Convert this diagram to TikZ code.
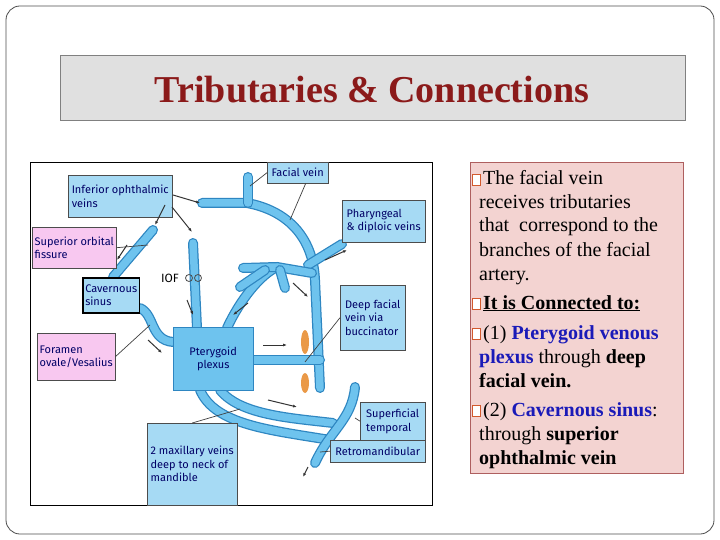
\documentclass[tikz,border=0pt]{standalone}
\usepackage{fontspec}
\setmainfont{Liberation Serif}
\newfontfamily\lab{Fira Sans}
\usetikzlibrary{arrows.meta}
\definecolor{vein}{HTML}{6EC3EE}
\definecolor{veinedge}{HTML}{2E86C1}
\definecolor{lbox}{HTML}{A6DAF4}
\definecolor{pinkbox}{HTML}{F8C8F0}
\definecolor{panel}{HTML}{F3D3D1}
\definecolor{titlered}{HTML}{8B1A1A}
\definecolor{txtblue}{HTML}{1A1AB8}
\tikzset{
 lbl/.style={draw=black!70,fill=lbox,font=\lab\fontsize{11}{13.5}\selectfont,text=blue!40!black,align=left,inner sep=2.5pt,anchor=north west},
 plbl/.style={lbl,fill=pinkbox},
 veinline/.style={line width=10pt,draw=veinedge,line cap=round},
 veinfill/.style={line width=7.5pt,draw=vein,line cap=round},
 arr/.style={-{Latex[length=4pt]},line width=1pt,black!80},
 lead/.style={line width=0.7pt,black!75},
 ptxt/.style={anchor=base west,font=\fontsize{20}{22}\selectfont,inner sep=0pt},
}
\newcommand{\bx}{\tikz[baseline=0pt]\draw[draw=brown!70!red,line width=0.6pt,fill=white](0,0) rectangle (8pt,11pt);}
\newcommand{\vein}[1]{\draw[veinline] #1; \draw[veinfill] #1;}
\begin{document}
\begin{tikzpicture}[x=1pt,y=-1pt]
\useasboundingbox (0,0) rectangle (720,540);
\draw[black!70,line width=0.8pt,rounded corners=14pt] (6,6) rectangle (714,534);
% title
\node[draw=black!50,fill=black!12,minimum width=625,minimum height=65,anchor=north west,inner sep=0] (title) at (60,55) {};
\node[font=\bfseries\fontsize{38}{42}\selectfont,text=titlered] (tt) at (372,90) {Tributaries \& Connections};
% figure frame
\node[draw=black,fill=white,line width=0.8pt,minimum width=402,minimum height=343,anchor=north west,inner sep=0] (fig) at (30,162) {};
% veins
\vein{(202,203) -- (247,203) .. controls (285,210) and (313,235) .. (315,280) -- (320,388)}
\vein{(248,177) -- (248,203)}
\vein{(308,265) -- (342,244)}
\vein{(253,360) -- (320,360)}
\vein{(227,328) .. controls (240,300) and (260,275) .. (277,267)}
\vein{(243,268) -- (277,267) -- (312,273)}
\vein{(240,287) -- (265,270)}
\vein{(285,288) -- (280,270)}
\vein{(193,243) -- (197,328)}
\vein{(113,277) -- (153,230)}
\vein{(140,308) .. controls (155,315) and (150,340) .. (173,342)}
\vein{(200,390) .. controls (215,425) and (270,430) .. (330,440)}
\vein{(220,390) .. controls (240,415) and (290,418) .. (333,423)}
\vein{(355,387) .. controls (352,420) and (330,430) .. (315,463)}
% brown blobs
\fill[orange!60!brown,opacity=0.8] (305,342) ellipse (4pt and 12pt);
\fill[orange!60!brown,opacity=0.8] (305,383) ellipse (4pt and 10pt);
% labels
\node[lbl,minimum width=104,minimum height=42] (iov) at (68,175) {Inferior ophthalmic\\veins};
\node[lbl,minimum width=61,minimum height=21] (fv) at (267,162) {Facial vein};
\node[plbl,minimum width=45,minimum height=41] (sof) at (32,227) {Superior orbital\\fissure};
\node[lbl,minimum width=83,minimum height=42] (pdv) at (342,200) {Pharyngeal\\\& diploic veins};
\node[lbl,draw=black,line width=1.5pt,minimum width=56,minimum height=35] (cs) at (82,277) {Cavernous\\sinus};
\node[lbl,minimum width=65,minimum height=65] (dfv) at (340,285) {Deep facial\\vein via\\buccinator};
\node[plbl,minimum width=75,minimum height=47] (fo) at (37,333) {Foramen\\ovale/Vesalius};
\node[lbl,draw=veinedge,fill=vein,minimum width=80,minimum height=63,anchor=north west,align=center] (pp) at (173,327) {Pterygoid\\plexus};
\node[lbl,minimum width=65,minimum height=38] (st) at (360,402) {Superficial\\temporal};
\node[lbl,minimum width=90,minimum height=82] (mv) at (147,423) {2 maxillary veins\\deep to neck of\\mandible};
\node[lbl,minimum width=95,minimum height=22] (rm) at (330,440) {Retromandibular};
\node[font=\lab\fontsize{12}{13}\selectfont] (iof) at (170,278) {IOF};
\draw[black!70,line width=0.8pt] (189,278) circle (3.5pt) (198,278) circle (3.5pt);
% leaders
\coordinate (l1) at (250,186); \draw[lead] (fv.west) -- (l1);
\coordinate (l2) at (290,220); \draw[lead] ([xshift=8pt]fv.south) -- (l2);
\coordinate (l3) at (148,245); \draw[lead] (sof.east) -- (l3);
\coordinate (l4) at (150,325); \draw[lead] (fo.east) -- (l4);
\coordinate (l5) at (305,362); \draw[lead] (dfv.west) -- (l5);
\coordinate (l6) at (240,409); \draw[lead] (mv.north) -- (l6);
\coordinate (l7) at (355,418); \draw[lead] (st.west) -- (l7);
\coordinate (l8) at (320,452); \draw[lead] (rm.west) -- (l8);
% arrows
\foreach \p/\q/\r/\s in {173/195/200/203,165/205/155/225,172/207/192/232,127/245/117/260,187/300/193/315,148/340/162/353,248/303/233/315,293/283/308/297,325/260/347/250,263/345/287/345,268/400/297/407,308/467/303/477}
  \draw[arr] (\p,\q) -- (\r,\s);
% text panel
\node[draw=titlered!70,fill=panel,minimum width=213,minimum height=311,anchor=north west,inner sep=0] (panel) at (470,162) {};
\node[anchor=base west,inner sep=0] (b1) at (472,185) {\bx};
\node[ptxt] (t1) at (483,185) {The facial vein};
\node[ptxt] (t2) at (479,208) {receives tributaries};
\node[ptxt] (t3) at (479,232) {that\ \ correspond to the};
\node[ptxt] (t4) at (479,256) {branches of the facial};
\node[ptxt] (t5) at (479,280) {artery.};
\node[anchor=base west,inner sep=0] (b2) at (472,309) {\bx};
\node[ptxt] (t6) at (483,309) {\bfseries\underline{It is Connected to:}};
\node[anchor=base west,inner sep=0] (b3) at (472,339) {\bx};
\node[ptxt] (t7) at (483,339) {(1) \textbf{\color{txtblue}Pterygoid venous}};
\node[ptxt] (t8) at (479,363) {\textbf{\color{txtblue}plexus} through \textbf{deep}};
\node[ptxt] (t9) at (479,387) {\textbf{facial vein.}};
\node[anchor=base west,inner sep=0] (b4) at (472,416) {\bx};
\node[ptxt] (t10) at (483,416) {(2) \textbf{\color{txtblue}Cavernous sinus}:};
\node[ptxt] (t11) at (479,440) {through \textbf{superior}};
\node[ptxt] (t12) at (479,464) {\textbf{ophthalmic vein}};
\end{tikzpicture}
\end{document}
